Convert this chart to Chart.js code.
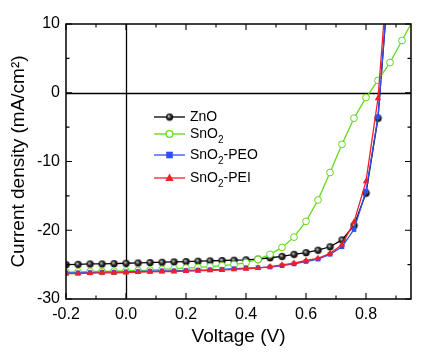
<!DOCTYPE html>
<html>
<head>
<meta charset="utf-8">
<script src="https://cdn.jsdelivr.net/npm/chart.js@4"></script>
<style>
  html, body { margin: 0; padding: 0; background: #fff; }
</style>
</head>
<body>
<canvas id="myChart" width="424" height="353"></canvas>
<script>
// voltage sweep (V)
const voltage = [-0.2, -0.16, -0.12, -0.08, -0.04, 0, 0.04, 0.08, 0.12, 0.16, 0.2, 0.24, 0.28, 0.32, 0.36,
  0.4, 0.44, 0.48, 0.52, 0.56, 0.6, 0.64, 0.68, 0.72, 0.76, 0.8, 0.84, 0.88, 0.92, 0.96];

// current density (mA/cm2) per device
const znoJ = [-25.0, -24.95, -24.9, -24.9, -24.85, -24.8, -24.75, -24.7, -24.65, -24.6, -24.55, -24.5, -24.45, -24.4,
  -24.35, -24.3, -24.2, -24.0, -23.8, -23.5, -23.25, -22.9, -22.4, -21.4, -19.3, -14.6, -3.7, 19];
const sno2J = [-26.1, -26.05, -26.0, -26.0, -25.95, -25.9, -25.85, -25.8, -25.7, -25.6, -25.5, -25.4, -25.3, -25.15,
  -25.0, -24.7, -24.25, -23.5, -22.5, -21.0, -18.7, -15.6, -11.6, -7.5, -3.7, -0.7, 1.8, 4.4, 7.6, 10.8];
const peoJ = [-26.2, -26.2, -26.15, -26.1, -26.1, -26.05, -26.0, -25.95, -25.9, -25.9, -25.85, -25.8, -25.75, -25.7,
  -25.6, -25.5, -25.45, -25.35, -25.15, -24.9, -24.55, -24.2, -23.5, -22.4, -19.9, -14.3, -3.5, 19];
const peiJ = [-26.3, -26.3, -26.25, -26.2, -26.2, -26.15, -26.1, -26.05, -26.0, -26.0, -25.95, -25.9, -25.85, -25.8,
  -25.7, -25.6, -25.5, -25.3, -25.05, -24.8, -24.4, -24.1, -23.35, -22.1, -18.8, -12.9, -0.8, 22];

const xTicks = [-0.2, 0, 0.2, 0.4, 0.6, 0.8];
const xTickLabels = ['-0.2', '0.0', '0.2', '0.4', '0.6', '0.8'];
const yTicks = [10, 0, -10, -20, -30];
const yTickLabels = ['10', '0', '-10', '-20', '-30'];

const FONT = "'Liberation Sans', Arial, sans-serif";

// shaded black ball for ZnO markers
function makeBall(r) {
  const c = document.createElement('canvas');
  const s = r * 2 + 2;
  c.width = s; c.height = s;
  const g = c.getContext('2d');
  const grad = g.createRadialGradient(s / 2 - 1, s / 2 - 1, 0.3, s / 2, s / 2, r);
  grad.addColorStop(0, '#d0d0d0');
  grad.addColorStop(0.45, '#333');
  grad.addColorStop(1, '#000');
  g.fillStyle = grad;
  g.beginPath();
  g.arc(s / 2, s / 2, r, 0, Math.PI * 2);
  g.fill();
  return c;
}
const ball = makeBall(3.6);

function pts(ys) {
  return ys.map((y, i) => ({ x: voltage[i], y: y }));
}

const series = [
  { label: 'ZnO', sub: null, data: znoJ, color: '#000000', style: ball, bg: '#000', radius: 3.6 },
  { label: 'SnO', sub: '', data: sno2J, color: '#62d91c', style: 'circle', bg: '#ffffff', radius: 3.4 },
  { label: 'SnO', sub: '-PEO', data: peoJ, color: '#2f4ff0', style: 'rect', bg: '#2f4ff0', radius: 3.3 },
  { label: 'SnO', sub: '-PEI', data: peiJ, color: '#f0202a', style: 'triangle', bg: '#f0202a', radius: 3.8 }
];

// frame, inward ticks and zero lines
const framePlugin = {
  id: 'frame',
  beforeDatasetsDraw(chart) {
    const { ctx, chartArea: a, scales: { x, y } } = chart;
    ctx.save();
    ctx.strokeStyle = '#000';
    ctx.lineWidth = 1.3;
    ctx.beginPath();
    const x0 = Math.round(x.getPixelForValue(0)) + 0.5;
    const y0 = Math.round(y.getPixelForValue(0)) + 0.5;
    ctx.moveTo(x0, a.top); ctx.lineTo(x0, a.bottom);
    ctx.moveTo(a.left, y0); ctx.lineTo(a.right, y0);
    ctx.stroke();
    ctx.restore();
  },
  afterDraw(chart) {
    const { ctx, chartArea: a, scales: { x, y } } = chart;
    ctx.save();
    ctx.strokeStyle = '#000';
    ctx.lineWidth = 1.5;
    ctx.strokeRect(a.left, a.top, a.right - a.left, a.bottom - a.top);
    ctx.lineWidth = 1.1;
    ctx.beginPath();
    for (let i = -2; i <= 9; i++) {
      const px = x.getPixelForValue(i / 10);
      const len = i % 2 === 0 ? 6 : 3.5;
      ctx.moveTo(px, a.bottom); ctx.lineTo(px, a.bottom - len);
      ctx.moveTo(px, a.top); ctx.lineTo(px, a.top + len);
    }
    for (let v = -30; v <= 10; v += 5) {
      const py = y.getPixelForValue(v);
      const len = v % 10 === 0 ? 6 : 3.5;
      ctx.moveTo(a.left, py); ctx.lineTo(a.left + len, py);
      ctx.moveTo(a.right, py); ctx.lineTo(a.right - len, py);
    }
    ctx.stroke();

    // legend
    const rows = [117, 134, 155, 178];
    series.forEach((s, i) => {
      const cy = rows[i];
      ctx.strokeStyle = s.color;
      ctx.lineWidth = 1.3;
      ctx.beginPath();
      ctx.moveTo(154, cy); ctx.lineTo(185, cy);
      ctx.stroke();
      const cx = 169.5;
      ctx.fillStyle = s.bg;
      if (s.style === ball) {
        ctx.drawImage(ball, cx - ball.width / 2, cy - ball.height / 2);
      } else if (s.style === 'circle') {
        ctx.beginPath(); ctx.arc(cx, cy, s.radius, 0, Math.PI * 2);
        ctx.fill(); ctx.stroke();
      } else if (s.style === 'rect') {
        ctx.fillRect(cx - 3.3, cy - 3.3, 6.6, 6.6);
      } else {
        ctx.beginPath();
        ctx.moveTo(cx, cy - 4.5); ctx.lineTo(cx + 4.2, cy + 3); ctx.lineTo(cx - 4.2, cy + 3);
        ctx.closePath(); ctx.fill();
      }
      ctx.fillStyle = '#000';
      ctx.textBaseline = 'middle';
      ctx.font = '14px ' + FONT;
      ctx.fillText(s.label, 190, cy);
      if (s.sub !== null) {
        const w = ctx.measureText(s.label).width;
        ctx.font = '10px ' + FONT;
        ctx.fillText('2', 190 + w, cy + 6);
        const w2 = ctx.measureText('2').width;
        ctx.font = '14px ' + FONT;
        ctx.fillText(s.sub, 190 + w + w2, cy);
      }
    });
    ctx.restore();
  }
};

const ctx = document.getElementById('myChart').getContext('2d');

const config = {
  type: 'line',
  data: {
    datasets: series.map(s => ({
      label: s.label + (s.sub !== null ? '2' + s.sub : ''),
      data: pts(s.data),
      borderColor: s.color,
      backgroundColor: s.bg,
      borderWidth: 1.3,
      pointStyle: s.style,
      pointRadius: s.radius,
      pointBorderWidth: s.style === 'circle' ? 1 : 0,
      pointBorderColor: s.color,
      tension: 0
    })).reverse()
  },
  options: {
    responsive: false,
    animation: false,
    layout: { padding: { top: 24, right: 13, left: 0, bottom: 0 } },
    plugins: {
      legend: { display: false },
      tooltip: { enabled: false }
    },
    scales: {
      x: {
        type: 'linear',
        min: -0.2,
        max: 0.95,
        grid: { display: false, drawTicks: false },
        border: { display: false },
        afterBuildTicks: s => { s.ticks = xTicks.map(v => ({ value: v })); },
        afterFit: s => { s.height = 54; },
        ticks: {
          padding: 6,
          color: '#000',
          font: { family: FONT, size: 16 },
          callback: (v, i) => xTickLabels[i]
        },
        title: {
          display: true,
          text: 'Voltage (V)',
          color: '#000',
          font: { family: FONT, size: 19 },
          padding: { bottom: 5 }
        }
      },
      y: {
        min: -30,
        max: 10,
        grid: { display: false, drawTicks: false },
        border: { display: false },
        afterBuildTicks: s => { s.ticks = yTicks.map(v => ({ value: v })); },
        afterFit: s => { s.width = 66; },
        ticks: {
          padding: 6,
          color: '#000',
          font: { family: FONT, size: 16 },
          callback: (v, i) => yTickLabels[i]
        },
        title: {
          display: true,
          text: 'Current density (mA/cm²)',
          color: '#000',
          font: { family: FONT, size: 19 },
          padding: { top: 7 }
        }
      }
    }
  },
  plugins: [framePlugin]
};

const myChart = new Chart(ctx, config);
</script>
</body>
</html>
